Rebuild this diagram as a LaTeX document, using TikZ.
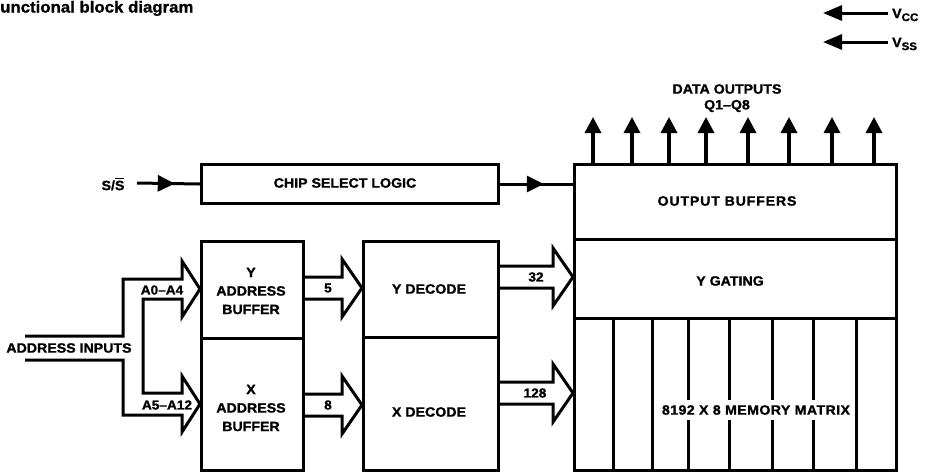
\documentclass[tikz,border=0pt]{standalone}
\usepackage{fontspec}
\setmainfont{Liberation Sans}[FakeStretch=1.05,FakeBold=1.2]
\usetikzlibrary{arrows.meta,calc,decorations.markings}
\tikzset{
  box/.style={draw, line width=3pt, inner sep=0pt, anchor=north west},
  lbl/.style={font=\bfseries\fontsize{13.5}{18.5}\selectfont, align=center, inner sep=0pt},
  sm/.style={font=\bfseries\fontsize{13}{14}\selectfont, inner sep=0pt},
  fat/.style={draw, line width=3pt, line join=miter},
  ln/.style={line width=3pt},
  outarr/.style={line width=3.4pt, -{Triangle[length=16pt,width=16pt]}},
  supply/.style={line width=3pt, -{Triangle[length=19pt,width=15pt]}},
  midarr/.style={ln, postaction={decorate}, decoration={markings, mark=at position #1 with {\arrow{Triangle[length=17pt,width=16pt]}}}}
}
\newcommand\fatarrow[3]{%
  \draw[fat] let \p1=(#1.east |- #3), \p2=(#2.west |- #3) in
    (\x1,\y1+11pt) -- (\x2-20pt,\y1+11pt) -- (\x2-20pt,\y1+29pt) -- (\x2,\y1)
    -- (\x2-20pt,\y1-29pt) -- (\x2-20pt,\y1-11pt) -- (\x1,\y1-11pt);}
\newcommand\barS{{\setbox0\hbox{S}\rlap{\raisebox{\dimexpr\ht0+1.8pt\relax}{\rule{\wd0}{1.3pt}}}S}}
\begin{document}
\begin{tikzpicture}[x=1pt,y=-1pt]
\useasboundingbox (0,0) rectangle (929,472);
% title
\node[anchor=base west, font=\bfseries\fontsize{16}{17}\selectfont, inner sep=0pt] (title) at (0,12.5) {unctional block diagram};
% supplies
\node[lbl, anchor=west] (vcc) at (892,15) {V\raisebox{-3pt}{\fontsize{11}{11}\selectfont CC}};
\node[lbl, anchor=west] (vss) at (892,44) {V\raisebox{-3pt}{\fontsize{11}{11}\selectfont SS}};
\coordinate (vccs) at (888,13); \coordinate (vcct) at (823,13);
\coordinate (vsss) at (888,42); \coordinate (vsst) at (823,42);
\draw[supply] (vccs) -- (vcct);
\draw[supply] (vsss) -- (vsst);
% boxes
\node[box, minimum width=297pt, minimum height=39pt] (csl) at (200,163) {};
\node[box, minimum width=102pt, minimum height=97pt] (ybuf) at (200,240) {};
\node[box, minimum width=102pt, minimum height=132pt] (xbuf) at (200,337) {};
\node[box, minimum width=135pt, minimum height=96pt] (ydec) at (362,240) {};
\node[box, minimum width=135pt, minimum height=133pt] (xdec) at (362,336) {};
\node[box, minimum width=322pt, minimum height=75pt] (outbuf) at (573,163) {};
\node[box, minimum width=322pt, minimum height=79pt] (ygate) at (573,238) {};
\node[box, minimum width=322pt, minimum height=152pt] (mem) at (573,317) {};
% memory columns
\foreach \x in {613,652,688,729,772,813,856}
  \draw[ln] (mem.north -| \x,0) -- (mem.south -| \x,0);
% box texts
\node[lbl] (cslt) at (345,183) {CHIP SELECT LOGIC};
\node[lbl] (ybuft) at (251,291) {Y\\ADDRESS\\BUFFER};
\node[lbl] (xbuft) at (251,408) {X\\ADDRESS\\BUFFER};
\node[lbl] (ydect) at (429,289) {Y DECODE};
\node[lbl] (xdect) at (429,412) {X DECODE};
\node[lbl] (outbuft) at (727,201) {\addfontfeature{LetterSpace=6}OUTPUT BUFFERS};
\node[lbl] (ygatet) at (730,281) {Y GATING};
\node[lbl, fill=white, inner xsep=2pt, inner ysep=5pt] (memt) at (756,410) {\addfontfeature{LetterSpace=3}8192 X 8 MEMORY MATRIX};
% data outputs
\node[lbl] (dout) at (727,89) {DATA OUTPUTS};
\node[lbl] (q18) at (727,106) {Q1--Q8};
\foreach \x in {593,632,669,706,748,789,832,874}
  \draw[outarr] (outbuf.north -| \x,0) -- (\x,117);
% chip select
\node[lbl] (ss) at (113,184) {S/\barS};
\coordinate (ssin) at (137,183);
\draw[midarr=0.6] (ssin) -- (csl.west);
\draw[midarr=0.6] (csl.east) -- (outbuf.west |- csl.east);
% address inputs
\node[lbl] (ain) at (69,348) {ADDRESS INPUTS};
\coordinate (ain1) at (25,336); \coordinate (ain2) at (25,360);
\coordinate (ca) at (200,289); \coordinate (cb) at (200,404);
\draw[fat] (ain1) -- (123,336) -- (123,279) -- (182,279) -- (182,261) -- (ybuf.west |- ca)
  -- (182,317) -- (182,299) -- (143,299) -- (143,393) -- (182,393) -- (182,376)
  -- (xbuf.west |- cb) -- (182,432) -- (182,415) -- (123,415) -- (123,360) -- (ain2);
\node[sm] (a04) at (162,290) {A0--A4};
\node[sm] (a512) at (167,405) {A5--A12};
% fat arrows
\coordinate (c5) at (0,288); \coordinate (c8) at (0,405);
\coordinate (c32) at (0,277); \coordinate (c128) at (0,393);
\fatarrow{ybuf}{ydec}{c5}
\fatarrow{xbuf}{xdec}{c8}
\fatarrow{ydec}{ygate}{c32}
\fatarrow{xdec}{mem}{c128}
\node[sm] (l5) at (328,288) {5};
\node[sm] (l8) at (328,405) {8};
\node[sm] (l32) at (536,277) {32};
\node[sm] (l128) at (535,393) {128};
\end{tikzpicture}
\end{document}
